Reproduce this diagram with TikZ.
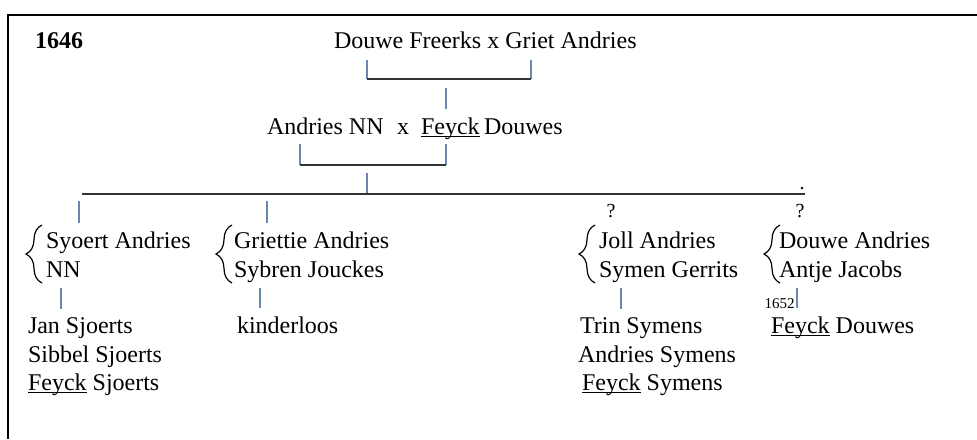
\documentclass[tikz,border=0pt]{standalone}
\usepackage{fontspec}
\setmainfont{Liberation Serif}
\usepackage{xcolor}
\usetikzlibrary{decorations.pathreplacing}
\usetikzlibrary{calc}

\definecolor{vblue}{HTML}{6A88B0}
\newcommand{\undl}[1]{\leavevmode\setbox0\hbox{#1}\rlap{\rule[-1.2pt]{\wd0}{0.45pt}}\box0\relax}

\begin{document}
\begin{tikzpicture}[x=0.5pt, y=-0.5pt,
	persoon/.style={anchor=base west, inner xsep=0pt, inner ysep=4pt, outer sep=0pt, font=\fontsize{12}{14}\selectfont},
	klein/.style={anchor=base, inner sep=0pt, font=\fontsize{10}{12}\selectfont},
	hline/.style={draw=black!80, line width=0.55pt},
	vline/.style={draw=vblue, line width=0.6pt},
	pair/.style={decorate, decoration={brace, amplitude=8pt}, line width=0.6pt}]
\useasboundingbox (0,0) rectangle (977,439);
\draw[line width=1.2pt] (8,439) -- (8,15) -- (977,15);

\node[persoon, font=\bfseries\fontsize{12}{14}\selectfont] (jaar) at (35,48) {1646};
\node[persoon] (ouders) at (334,48) {Douwe Freerks x Griet Andries};

\node[persoon] (andries) at (267,134) {Andries NN};
\node[persoon] (x) at (397,134) {x};
\node[persoon] (feyck) at (421,134) {\undl{Feyck}};
\node[persoon] (douwes) at (484,134) {Douwes};

% kinderen
\node[persoon] (syoert) at (46,248) {Syoert Andries};
\node[persoon] (nn) at (46,277) {NN};
\node[persoon] (griettie) at (234,248) {Griettie Andries};
\node[persoon] (sybren) at (234,277) {Sybren Jouckes};
\node[persoon] (joll) at (599,248) {Joll Andries};
\node[persoon] (symen) at (599,277) {Symen Gerrits};
\node[persoon] (douwea) at (779,248) {Douwe Andries};
\node[persoon] (antje) at (779,277) {Antje Jacobs};

\draw[pair] (42,283) -- (42,225);
\draw[pair] (232,283) -- (232,225);
\draw[pair] (595,283) -- (595,225);
\draw[pair] (780,283) -- (780,225);

\node[klein] (q1) at (611,217) {?};
\node[klein] (q2) at (800,217) {?};
\node[klein] (punt) at (802,189) {.};

% kleinkinderen
\node[persoon] (jan) at (28,333) {Jan Sjoerts};
\node[persoon] (sibbel) at (28,362) {Sibbel Sjoerts};
\node[persoon] (feycks) at (28,390) {\undl{Feyck} Sjoerts};
\node[persoon] (kinderloos) at (237,333) {kinderloos};
\node[persoon] (trin) at (580,333) {Trin Symens};
\node[persoon] (andriess) at (578,362) {Andries Symens};
\node[persoon] (feyckm) at (582,390) {\undl{Feyck} Symens};
\node[persoon] (feyckd) at (771,333) {\undl{Feyck} Douwes};
\node[klein, anchor=base east, font=\fontsize{7.5}{9}\selectfont] (jaar2) at (795,308) {1652};

\coordinate (o1) at (367,60);
\coordinate (o2) at (531,60);
\coordinate (o3) at (367,79);
\coordinate (o4) at (531,79);
\draw[vline] (o1) -- (o3);
\draw[vline] (o2) -- (o4);
\draw[hline] (o3) -- (o4);
\coordinate (o5) at (446,88);
\draw[vline] (o5) -- (o5 |- feyck.north);

\coordinate (a1) at (300,144);
\coordinate (a2) at (446,144);
\coordinate (a3) at (300,165);
\coordinate (a4) at (446,165);
\draw[vline] (a1) -- (a3);
\draw[vline] (a2) -- (a4);
\draw[hline] (a3) -- (a4);
\coordinate (a5) at (367,173);
\coordinate (k0) at (82,194);
\coordinate (k1) at (805,194);
\draw[vline] (a5) -- (a5 |- k0);
\draw[hline] (k0) -- (k1);

\coordinate (s1) at (79,201);
\coordinate (g1) at (267,201);
\draw[vline] (s1) -- (s1 |- syoert.north);
\draw[vline] (g1) -- (g1 |- griettie.north);

\coordinate (s2) at (61,288);
\coordinate (g2) at (260,288);
\coordinate (j2) at (621,288);
\coordinate (d2) at (797,288);
\draw[vline] (s2) -- (s2 |- jan.north);
\draw[vline] (g2) -- (g2 |- kinderloos.north);
\draw[vline] (j2) -- (j2 |- trin.north);
\draw[vline] (d2) -- (d2 |- feyckd.north);
\end{tikzpicture}
\end{document}
